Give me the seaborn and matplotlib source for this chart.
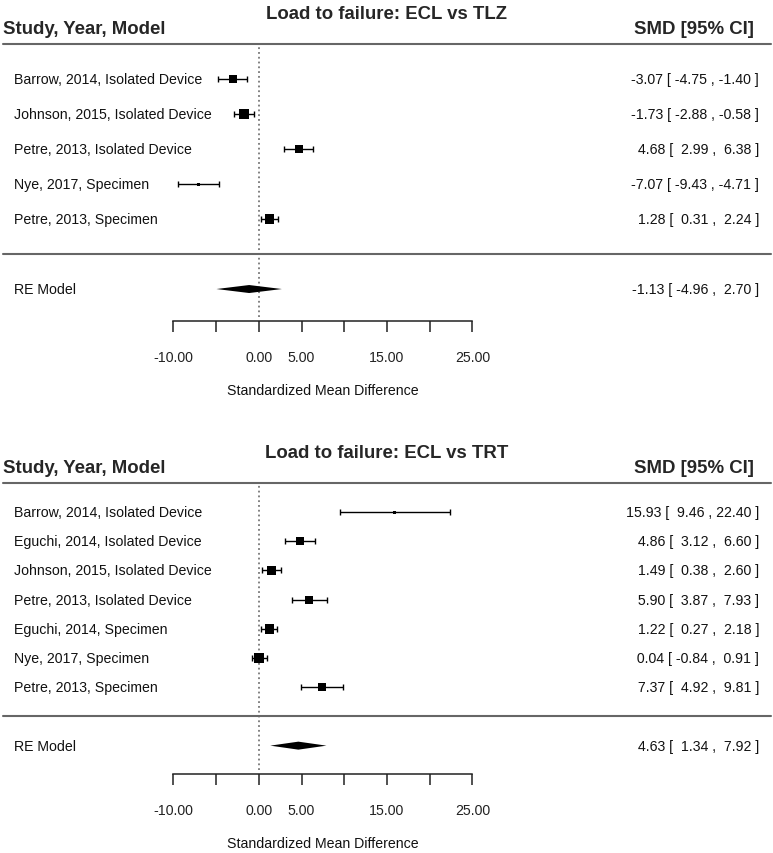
import numpy as np
import pandas as pd
import matplotlib
matplotlib.use('Agg')
import matplotlib.pyplot as plt
import seaborn as sns

# ---- DATA ----
tlz_studies = ['Barrow, 2014, Isolated Device', 'Johnson, 2015, Isolated Device',
               'Petre, 2013, Isolated Device', 'Nye, 2017, Specimen', 'Petre, 2013, Specimen']
tlz_smd = [-3.07, -1.73, 4.68, -7.07, 1.28]
tlz_lo = [-4.75, -2.88, 2.99, -9.43, 0.31]
tlz_hi = [-1.40, -0.58, 6.38, -4.71, 2.24]
tlz_re = [-1.13, -4.96, 2.70]

trt_studies = ['Barrow, 2014, Isolated Device', 'Eguchi, 2014, Isolated Device',
               'Johnson, 2015, Isolated Device', 'Petre, 2013, Isolated Device',
               'Eguchi, 2014, Specimen', 'Nye, 2017, Specimen', 'Petre, 2013, Specimen']
trt_smd = [15.93, 4.86, 1.49, 5.90, 1.22, 0.04, 7.37]
trt_lo = [9.46, 3.12, 0.38, 3.87, 0.27, -0.84, 4.92]
trt_hi = [22.40, 6.60, 2.60, 7.93, 2.18, 0.91, 9.81]
trt_re = [4.63, 1.34, 7.92]

tick_vals = [-10, -5, 0, 5, 10, 15, 20, 25]
tick_labels = ['-10.00', '', '0.00', '5.00', '', '15.00', '', '25.00']

sns.set_theme(style='white')
plt.rcParams['font.family'] = ['Liberation Sans', 'DejaVu Sans']

DPI = 100
PX = 72 / DPI  # points per pixel


def fmt_ci(est, lo, hi):
    return f"{est:5.2f} [{lo:6.2f} , {hi:5.2f} ]"


def draw_panel(ax, title, studies, smd, lo, hi, re, ylim, row_px):
    k = len(studies)
    df = pd.DataFrame({'study': studies, 'smd': smd, 'lo': lo, 'hi': hi})
    df['row'] = np.arange(k, 0, -1)

    # inverse-variance weights from the CI, scaled like a forest plot
    se = (df['hi'] - df['lo']) / (2 * 1.96)
    wi = 1 / se ** 2
    scaled = (wi - wi.min()) / (wi.max() - wi.min())
    side_px = 3 + 6.5 * scaled ** 0.15
    df['area'] = (side_px * PX) ** 2

    ax.set_xlim(-30.3, 60.2)
    ax.set_ylim(*ylim)

    # reference line and separators
    ax.vlines(0, ylim[0] + 4 / row_px, k + 1, colors='#777777',
              linestyles=':', linewidth=1.3, zorder=1)
    ax.axhline(k + 1, xmin=0.004, xmax=0.998, color='#666666', lw=1.5)
    ax.axhline(0, xmin=0.004, xmax=0.998, color='#666666', lw=1.5)

    # CIs and squares
    ax.errorbar(df['smd'], df['row'],
                xerr=[df['smd'] - df['lo'], df['hi'] - df['smd']],
                fmt='none', ecolor='black', elinewidth=1, capsize=2.2,
                capthick=1, zorder=2)
    sns.scatterplot(data=df, x='smd', y='row', size='area',
                    sizes=(df['area'].min(), df['area'].max()),
                    marker='s', color='black', linewidth=0, legend=False,
                    ax=ax, zorder=3)

    # summary diamond
    h = 4 / row_px
    est, rlo, rhi = re
    ax.fill([rlo, est, rhi, est], [-1, -1 + h, -1, -1 - h], color='black',
            lw=0, zorder=3)

    # text columns
    tr = ax.get_yaxis_transform()
    for _, r in df.iterrows():
        ax.text(0.018, r['row'], r['study'], transform=tr, ha='left',
                va='center', fontsize=10.2, color='#111111')
        ax.text(0.982, r['row'], fmt_ci(r['smd'], r['lo'], r['hi']),
                transform=tr, ha='right', va='center', fontsize=10.2,
                color='#111111')
    ax.text(0.018, -1, 'RE Model', transform=tr, ha='left', va='center',
            fontsize=10.2, color='#111111')
    ax.text(0.982, -1, fmt_ci(*re), transform=tr, ha='right', va='center',
            fontsize=10.2, color='#111111')

    # headers and title (offsets from the top separator, in pixels)
    ax.annotate('Study, Year, Model', xy=(0.004, k + 1), xycoords=tr,
                xytext=(0, 15 * PX), textcoords='offset points',
                ha='left', va='center', fontsize=13.4, fontweight='bold',
                annotation_clip=False)
    ax.annotate('SMD [95% CI]', xy=(0.9755, k + 1), xycoords=tr,
                xytext=(0, 15 * PX), textcoords='offset points',
                ha='right', va='center', fontsize=13.4, fontweight='bold',
                annotation_clip=False)
    ax.annotate(title, xy=(0.5, k + 1), xycoords=tr,
                xytext=(0, 30 * PX), textcoords='offset points',
                ha='center', va='center', fontsize=13.4, fontweight='bold',
                annotation_clip=False)

    # x axis
    for s in ['top', 'left', 'right']:
        ax.spines[s].set_visible(False)
    ax.spines['bottom'].set_bounds(-10, 25)
    ax.spines['bottom'].set_color('#222222')
    ax.spines['bottom'].set_linewidth(1.1)
    ax.set_xticks(tick_vals)
    ax.set_xticklabels(tick_labels)
    ax.set_yticks([])
    ax.tick_params(axis='x', direction='out', length=8, width=1.1,
                   pad=13, labelsize=10.2, colors='#222222',
                   bottom=True)
    ax.set_xlabel('')
    ax.set_ylabel('')
    ax.annotate('Standardized Mean Difference', xy=(7.5, 0),
                xycoords=('data', 'axes fraction'),
                xytext=(0, -69 * PX), textcoords='offset points',
                ha='center', va='center', fontsize=10.2, color='#111111',
                annotation_clip=False)
    ax.patch.set_alpha(0)


fig = plt.figure(figsize=(7.73, 8.54), dpi=DPI)
ax1 = fig.add_axes([0, 0.6235, 1, 0.373])
ax2 = fig.add_axes([0, 0.0922, 1, 0.3925])

draw_panel(ax1, 'Load to failure: ECL vs TLZ', tlz_studies, tlz_smd, tlz_lo,
           tlz_hi, tlz_re, (-1.9, 7.2), 35.0)
draw_panel(ax2, 'Load to failure: ECL vs TRT', trt_studies, trt_smd, trt_lo,
           trt_hi, trt_re, (-1.98, 9.5), 29.2)

fig.savefig('out.png', dpi=DPI)
plt.close(fig)
